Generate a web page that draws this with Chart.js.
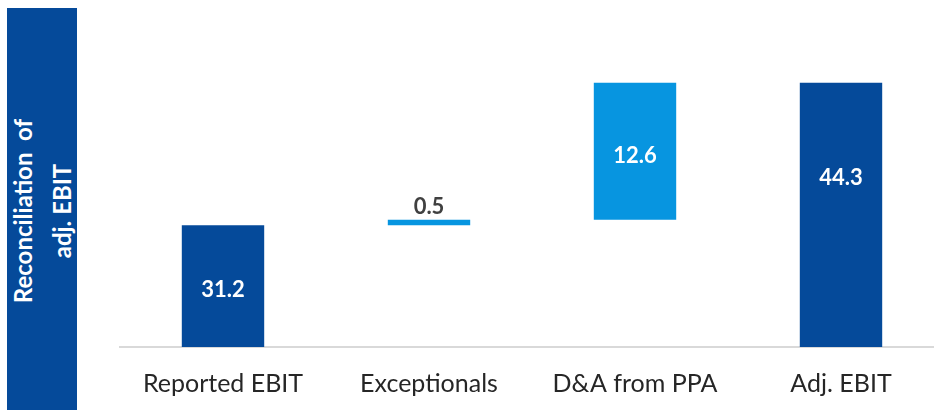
<!DOCTYPE html>
<html>
<head>
<meta charset="utf-8">
<script src="https://cdn.jsdelivr.net/npm/chart.js@4"></script>
<style>
  html, body { margin: 0; padding: 0; background: #fff; overflow: hidden; }
  body { width: 934px; height: 410px; position: relative; }
  #panel {
    position: absolute; left: 7px; top: 8px; width: 70px; height: 402px;
    background: #054a9a;
  }
  #panel-text {
    position: absolute; left: 35px; top: 203px;
    transform: translate(-50%, -50%) rotate(-90deg);
    white-space: nowrap; text-align: center;
    font-family: Lato, sans-serif; font-weight: bold; font-size: 24px;
    line-height: 39px; color: #fff;
  }
  #wrap { position: absolute; left: 0; top: 0; width: 950px; height: 430px; }
</style>
</head>
<body>
<div id="panel"><div id="panel-text">Reconciliation&nbsp; of<br>adj. EBIT</div></div>
<div id="wrap"><canvas id="chart"></canvas></div>
<script>
/* Categories and values of the bridge. */
const categories = ["Reported EBIT", "Exceptionals", "D&A from PPA", "Adj. EBIT"]
const values = [31.2, 0.5, 12.6, 44.3]
const isTotal = [true, false, false, true]

const darkBlue = "#054a9a"
const lightBlue = "#0795e0"

/* Build floating ranges: totals start from zero, steps from the running sum. */
const ranges = []
let running = 0
values.forEach((v, i) => {
  if (isTotal[i]) {
    ranges.push([0, v])
    running = v
  } else {
    ranges.push([running, running + v])
    running += v
  }
})

/* Draws the value labels on (or above) the bars. */
const valueLabels = {
  id: "valueLabels",
  afterDatasetsDraw(chart, args, opts) {
    const ctx = chart.ctx
    const area = chart.chartArea
    const meta = chart.getDatasetMeta(0)
    ctx.save()
    ctx.textAlign = "center"
    ctx.textBaseline = "middle"
    ctx.font = "bold 22px Lato, sans-serif"
    meta.data.forEach((bar, i) => {
      const top = Math.min(bar.y, bar.base)
      const bottom = Math.min(Math.max(bar.y, bar.base), area.bottom)
      const text = values[i].toFixed(1)
      if (bottom - top < 30) {
        ctx.fillStyle = "#404040"
        ctx.fillText(text, bar.x, top - 13)
      } else {
        ctx.fillStyle = "#ffffff"
        ctx.fillText(text, bar.x, top + (bottom - top) * opts.frac[i])
      }
    })
    ctx.restore()
  }
}

const ctx = document.getElementById("chart").getContext("2d")
const chart = new Chart(ctx, {
  type: "bar",
  data: {
    labels: categories,
    datasets: [{
      data: ranges,
      backgroundColor: isTotal.map(t => t ? darkBlue : lightBlue),
      borderWidth: 0,
      borderSkipped: false,
      barPercentage: 0.4,
      categoryPercentage: 1
    }]
  },
  options: {
    responsive: true,
    maintainAspectRatio: false,
    animation: false,
    layout: { padding: { left: 120, right: 6, top: 10, bottom: 9 } },
    scales: {
      x: {
        grid: { display: false, drawTicks: false },
        border: { display: true, color: "#d9d9d9", width: 2 },
        ticks: {
          color: "#262626",
          padding: 22,
          font: { family: "Lato, sans-serif", size: 25 }
        }
      },
      y: {
        display: false,
        min: 20,
        max: 51
      }
    },
    plugins: {
      legend: { display: false },
      tooltip: { enabled: false },
      valueLabels: { frac: [0.53, 0, 0.53, 0.36] }
    }
  },
  plugins: [valueLabels]
})
</script>
</body>
</html>
